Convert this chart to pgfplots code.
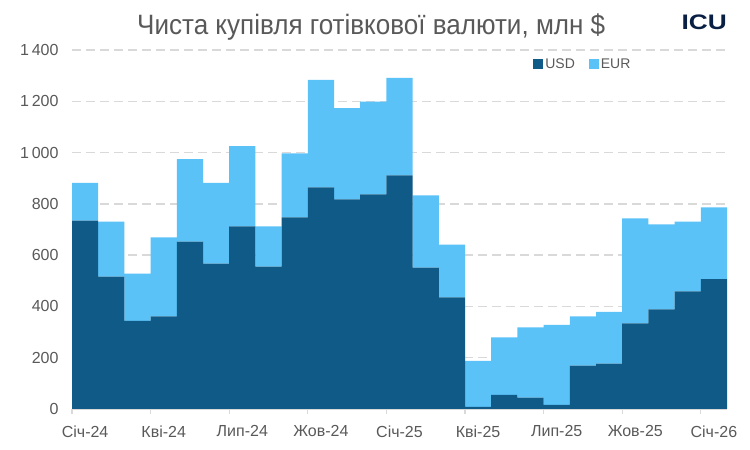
\documentclass[border=0pt]{standalone}
\usepackage{fontspec}
\setmainfont{Liberation Sans}
\newfontfamily\titlefont[FakeStretch=0.93]{Liberation Sans}
\newfontfamily\logofont[FakeStretch=1.25]{Liberation Sans}
\usepackage{pgfplots}
\pgfplotsset{compat=1.18}
\definecolor{usd}{HTML}{0F5A87}
\definecolor{eur}{HTML}{5BC2F7}
\definecolor{txt}{HTML}{595959}
\definecolor{gridc}{HTML}{D9D9D9}
\definecolor{logo}{HTML}{0A1F44}
\begin{document}
\begin{tikzpicture}[x=1bp,y=1bp]
\path[use as bounding box] (0,0) rectangle (750,450);
\begin{axis}[
  at={(72bp,41bp)}, anchor=south west,
  scale only axis, width=655bp, height=359bp,
  ybar stacked, bar width=1, bar shift=0pt,
  xmin=-0.5, xmax=24.5, ymin=0, ymax=1400,
  axis x line*=bottom, axis y line*=left,
  x axis line style={draw=gridc, line width=1.2bp},
  y axis line style={draw=none},
  xtick={0,3,...,24},
  xticklabels={Січ-24,Кві-24,Лип-24,Жов-24,Січ-25,Кві-25,Лип-25,Жов-25,Січ-26},
  major tick length=0pt,
  extra x ticks={-0.5,2.5,...,23.5},
  extra x tick labels={},
  extra x tick style={major tick length=5bp, tick align=outside, tick style={draw=gridc, line width=1.2bp}, xmajorgrids=false},
  ytick={0,200,...,1400},
  ymajorgrids,
  grid style={draw=gridc, dash pattern=on 9bp off 5bp, line width=1.5bp},
  /pgf/number format/.cd, 1000 sep={\,}, assume math mode=true, /pgfplots/.cd,
  tick label style={font=\fontsize{16bp}{19bp}\selectfont, text=txt},
  xticklabel style={yshift=-13bp},
  yticklabel style={xshift=-10bp},
  legend style={at={(0.78,0.961)}, anchor=center, draw=none, fill=none,
    legend columns=2, font=\fontsize{14bp}{16bp}\selectfont, text=txt,
    /tikz/every even column/.append style={column sep=12bp}},
  legend image code/.code={\fill[#1] (0bp,-5bp) rectangle (10bp,5bp);},
]
\addplot[fill=usd, draw=none] coordinates {
(0,735) (1,516) (2,344) (3,361) (4,653) (5,567) (6,712) (7,555) (8,747) (9,864)
(10,817) (11,837) (12,911) (13,551) (14,435) (15,8) (16,55) (17,44) (18,16) (19,169)
(20,177) (21,334) (22,388) (23,459) (24,506)};
\addlegendentry{USD}
\addplot[fill=eur, draw=none] coordinates {
(0,147) (1,215) (2,184) (3,308) (4,321) (5,315) (6,313) (7,157) (8,250) (9,419)
(10,356) (11,362) (12,380) (13,282) (14,206) (15,180) (16,224) (17,274) (18,312) (19,192)
(20,202) (21,409) (22,332) (23,272) (24,280)};
\addlegendentry{EUR}
\end{axis}
\node[anchor=base west, text=txt, inner sep=0pt] at (137,415) {\titlefont\fontsize{28bp}{30bp}\selectfont Чиста купівля готівкової валюти, млн \$};
\node[anchor=base east, text=logo, inner sep=0pt] at (727,420) {\logofont\fontsize{21bp}{24bp}\selectfont\bfseries ICU};
\end{tikzpicture}
\end{document}
